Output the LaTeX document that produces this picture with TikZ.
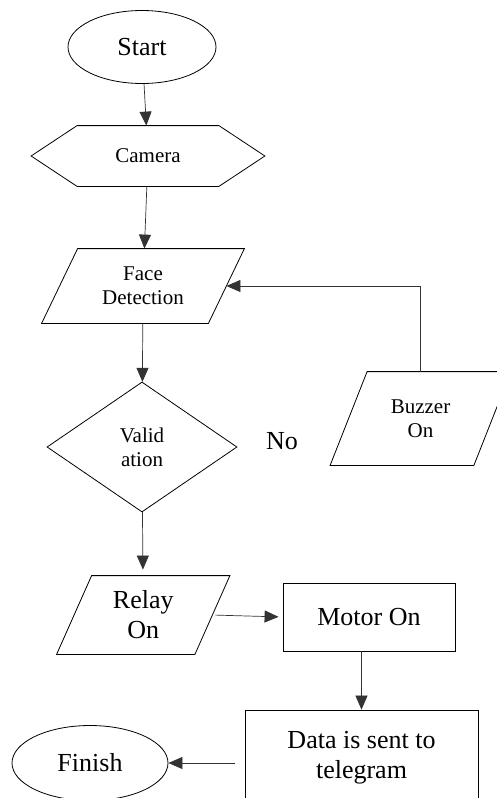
\documentclass[tikz,border=0pt]{standalone}
\usepackage{fontspec}
\setmainfont{Liberation Serif}
\usetikzlibrary{shapes.geometric,arrows.meta}
\begin{document}
\begin{tikzpicture}[x=1pt,y=-1pt,line width=0.8pt,
  big/.style={font=\fontsize{26}{30}\selectfont},
  small/.style={font=\fontsize{21}{24}\selectfont},
  arr/.style={-{Triangle[width=12pt,length=14pt]},line width=0.7pt,black!80}]
  \useasboundingbox (0,0) rectangle (497,798);
  \clip (0,0) rectangle (497,798);
  \node[draw,ellipse,inner sep=0,minimum width=148,minimum height=73,big] (start) at (142,47) {Start};
  \node[small,inner sep=0,minimum width=141,minimum height=60] (camera) at (148,156) {Camera};
  \draw (camera.north west) -- (camera.north east) -- ([xshift=46]camera.east) -- (camera.south east) -- (camera.south west) -- ([xshift=-46]camera.west) -- cycle;
  \node[small,inner sep=0,minimum width=166,minimum height=74,align=center] (face) at (143,286) {Face\\Detection};
  \node[draw,diamond,small,inner sep=0,minimum width=190,minimum height=130,align=center] (valid) at (142,447) {Valid\\ation};
  \node[big] (no) at (282,441) {No};
  \node[small,inner sep=0,minimum width=143,minimum height=93,align=center] (buzzer) at (420.5,418.5) {Buzzer\\On};
  \node[big,inner sep=0,minimum width=137.5,minimum height=78,align=center] (relay) at (143.25,615) {Relay\\On};
  \node[draw,big,inner sep=0,minimum width=172,minimum height=68] (motor) at (369,617) {Motor On};
  \node[draw,big,inner sep=0,minimum width=233,minimum height=95,align=center] (data) at (361.5,757.5) {Data is sent to\\telegram};
  \node[draw,ellipse,big,inner sep=0,minimum width=156,minimum height=75] (finish) at (90,763) {Finish};
  % slanted input/output boxes
  \foreach \n/\s in {face/18,buzzer/18.5,relay/17.5}
    \draw ([xshift=\s]\n.north west) -- ([xshift=\s]\n.north east) -- ([xshift=-\s]\n.south east) -- ([xshift=-\s]\n.south west) -- cycle;
  \draw[arr] (start) -- (camera);
  \draw[arr] (camera) -- (face);
  \draw[arr] (face) -- (valid);
  \draw[arr] (buzzer.north) |- (face.east);
  \draw[arr,shorten >=6pt] (valid) -- (relay);
  \draw[arr,shorten <=3pt,shorten >=4pt] (relay.east) -- (motor.west);
  \draw[arr] (data.north |- motor.south) -- (data.north);
  \draw[arr,shorten <=10pt] (data.west |- finish.east) -- (finish.east);
\end{tikzpicture}
\end{document}
